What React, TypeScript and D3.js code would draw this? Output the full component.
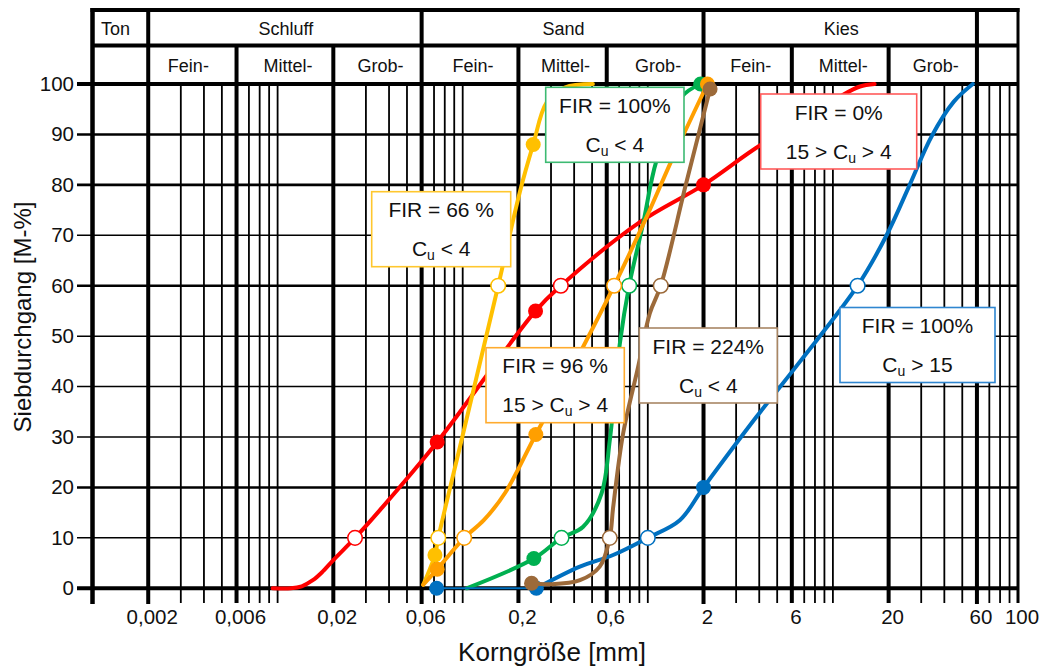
import React from 'react';
import * as d3 from 'd3';

type P = [number, number];

// ---------- axis / header definitions ----------
const xTickValues = [0.002, 0.006, 0.02, 0.06, 0.2, 0.6, 2, 6, 20, 60, 100];
const xTickLabels = ['0,002', '0,006', '0,02', '0,06', '0,2', '0,6', '2', '6', '20', '60', '100'];
const yTickValues = [0, 10, 20, 30, 40, 50, 60, 70, 80, 90, 100];
const yBoldValues = [20, 60, 80, 90];
const mainBounds = [0.001, 0.002, 0.06, 2, 60];
const subBounds = [0.006, 0.02, 0.2, 0.6, 6, 20];

const headerTopLabels = ['Ton', 'Schluff', 'Sand', 'Kies'];
const headerTopFrom = [0.001, 0.002, 0.06, 2];
const headerTopTo = [0.002, 0.06, 2, 60];
const headerSubLabels = ['Fein-', 'Mittel-', 'Grob-', 'Fein-', 'Mittel-', 'Grob-', 'Fein-', 'Mittel-', 'Grob-'];
const headerSubFrom = [0.002, 0.006, 0.02, 0.06, 0.2, 0.6, 2, 6, 20];
const headerSubTo = [0.006, 0.02, 0.06, 0.2, 0.6, 2, 6, 20, 60];

// ---------- series data: [grain size mm, passing %] ----------
const redCurve: P[] = [
  [0.0094, 0], [0.0118, 0], [0.0135, 0.4], [0.0155, 1.6], [0.0175, 3.3], [0.02, 5.6], [0.0262, 10],
  [0.0357, 15.5], [0.0728, 29], [0.2475, 55], [0.339, 60], [0.9055, 72.6], [2.0, 80], [4.03, 87.8],
  [8.0, 94], [11.3, 97.8], [14.0, 99.5], [16.8, 100],
];
const redFilled: P[] = [[0.0728, 29], [0.2475, 55], [2.0, 80]];
const redOpen: P[] = [[0.0262, 10], [0.339, 60]];

const yellowCurve: P[] = [
  [0.0612, 0.7], [0.0708, 6.6], [0.0738, 10], [0.0995, 30], [0.1555, 60], [0.2036, 78.6],
  [0.2404, 88], [0.2838, 96.3], [0.356, 99.3], [0.505, 100],
];
const yellowFilled: P[] = [[0.0708, 6.6], [0.2404, 88]];
const yellowOpen: P[] = [[0.0738, 10], [0.1555, 60]];

const greenCurve: P[] = [
  [0.105, 0], [0.2424, 5.9], [0.342, 10], [0.4474, 12.2], [0.5623, 18.8], [0.6235, 29.4],
  [0.706, 48.5], [0.793, 60], [0.943, 72.3], [1.114, 84.8], [1.521, 97.4], [1.93, 100],
];
const greenFilled: P[] = [[0.2424, 5.9], [1.93, 100]];
const greenOpen: P[] = [[0.342, 10], [0.793, 60]];

const orangeCurve: P[] = [
  [0.0612, 0.7], [0.0728, 3.8], [0.1019, 10], [0.13, 13.5], [0.17, 19], [0.2484, 30.5],
  [0.4475, 47.9], [0.658, 60], [0.984, 73.6], [1.37, 85.5], [2.1, 100],
];
const orangeFilled: P[] = [[0.0728, 3.8], [0.2484, 30.5], [2.1, 100]];
const orangeOpen: P[] = [[0.1019, 10], [0.658, 60]];

const blueBase: P[] = [[0.0723, 0], [0.25, 0]];
const blueCurve: P[] = [
  [0.25, 0], [0.4295, 4.3], [0.6496, 6.6], [1.0, 10], [1.489, 13.5], [2.0, 20], [3.864, 34],
  [6.62, 44.9], [13.6, 60], [19.5, 70], [26, 80], [34, 89.5], [45, 96.5], [57, 100],
];
const blueFilled: P[] = [[0.0723, 0], [0.25, 0], [2.0, 20]];
const blueOpen: P[] = [[1.0, 10], [13.6, 60]];

const brownCurve: P[] = [
  [0.2355, 1], [0.3, 0.8], [0.43, 1.6], [0.55, 4.3], [0.623, 10], [0.6496, 16], [0.7357, 30.7],
  [0.8864, 43.9], [1.025, 54.5], [1.175, 60], [1.604, 80], [2.17, 99],
];
const brownFilled: P[] = [[0.2355, 1], [2.17, 99]];
const brownOpen: P[] = [[0.623, 10], [1.175, 60]];

const FIR_LABELS = ['FIR = 0%', 'FIR = 66 %', 'FIR = 100%', 'FIR = 96 %', 'FIR = 224%', 'FIR = 100%'];
const CU_PRE = ['15 > ', '', '', '15 > ', '', ''];
const CU_POST = [' > 4', ' < 4', ' < 4', ' > 4', ' < 4', ' > 15'];

const FONT = '"Liberation Sans", Arial, Helvetica, sans-serif';

const series = [
  { color: '#ff0000', curve: redCurve, filled: redFilled, open: redOpen },
  { color: '#ffc000', curve: yellowCurve, filled: yellowFilled, open: yellowOpen },
  { color: '#00b050', curve: greenCurve, filled: greenFilled, open: greenOpen },
  { color: '#ff9f00', curve: orangeCurve, filled: orangeFilled, open: orangeOpen },
  { color: '#0070c0', curve: blueCurve, filled: blueFilled, open: blueOpen },
  { color: '#9c6a3a', curve: brownCurve, filled: brownFilled, open: brownOpen },
];

// annotation box layout (pixels), index into FIR_LABELS etc.
const notes = [
  { i: 0, border: '#ff5a5a', x: 760.7, y: 94, w: 156 },
  { i: 1, border: '#ffc72e', x: 371.7, y: 191.7, w: 139 },
  { i: 2, border: '#3dba72', x: 545.7, y: 87.3, w: 138.3 },
  { i: 3, border: '#ffab2e', x: 486, y: 347.7, w: 138.3 },
  { i: 4, border: '#a88664', x: 639.3, y: 328, w: 138 },
  { i: 5, border: '#2f86d0', x: 840, y: 307.5, w: 155 },
];

const same = (a: number, b: number) => Math.abs(Math.log10(a) - Math.log10(b)) < 1e-6;

export default function App() {
  const x = d3.scaleLog().domain([0.001, 100]).range([92.5, 1018]);
  const y = d3.scaleLinear().domain([0, 100]).range([588.3, 84]);
  const line = d3
    .line<P>()
    .x((d) => x(d[0]))
    .y((d) => y(d[1]))
    .curve(d3.curveCatmullRom.alpha(0.5));
  const straight = d3
    .line<P>()
    .x((d) => x(d[0]))
    .y((d) => y(d[1]));

  const hTop = 10;
  const hMid = 45.5;
  const hBot = y(100);
  const gridBottom = 603;
  const left = x(0.001);
  const right = x(100);

  const minor = x.ticks().filter(
    (v) => ![...mainBounds, ...subBounds, 100].some((b) => same(v, b))
  );

  return (
    <svg
      width={1045}
      height={671}
      style={{ position: 'absolute', left: 0, top: 0, background: '#fff' }}
      fontFamily={FONT}
    >
      <rect x={0} y={0} width={1045} height={671} fill="#fff" />

      {/* minor vertical grid */}
      {minor.map((v, k) => (
        <line key={'mv' + k} x1={x(v)} x2={x(v)} y1={hBot} y2={gridBottom} stroke="#000" strokeWidth={1.8} />
      ))}

      {/* horizontal grid */}
      {yTickValues.map((v) => (
        <line
          key={'h' + v}
          x1={77}
          x2={right}
          y1={y(v)}
          y2={y(v)}
          stroke="#000"
          strokeWidth={v === 0 || v === 100 ? 4 : yBoldValues.includes(v) ? 2.6 : 1.5}
        />
      ))}

      {/* header horizontal lines */}
      <line x1={left - 2} x2={right + 1.5} y1={hTop} y2={hTop} stroke="#000" strokeWidth={4} />
      <line x1={left} x2={right} y1={hMid} y2={hMid} stroke="#000" strokeWidth={4} />

      {/* sub-fraction boundaries */}
      {subBounds.map((v) => (
        <line key={'sb' + v} x1={x(v)} x2={x(v)} y1={hMid} y2={gridBottom} stroke="#000" strokeWidth={4} />
      ))}
      {/* main boundaries */}
      {mainBounds.map((v) => (
        <line key={'mb' + v} x1={x(v)} x2={x(v)} y1={hTop - 2} y2={gridBottom + 1} stroke="#000" strokeWidth={v === 0.001 ? 4.5 : 4} />
      ))}
      <line x1={right} x2={right} y1={hTop - 2} y2={gridBottom} stroke="#000" strokeWidth={3} />

      {/* header labels */}
      {headerTopLabels.map((t, k) => (
        <text
          key={'ht' + k}
          x={k === 0 ? x(headerTopFrom[k]) + 8.5 : (x(headerTopFrom[k]) + x(headerTopTo[k])) / 2 + 1}
          y={34.5}
          fontSize={18}
          textAnchor={k === 0 ? 'start' : 'middle'}
          fill="#111"
        >
          {t}
        </text>
      ))}
      {headerSubLabels.map((t, k) => (
        <text
          key={'hs' + k}
          x={(x(headerSubFrom[k]) + x(headerSubTo[k])) / 2 + (k === 0 ? -4 : 3)}
          y={71.7}
          fontSize={18}
          textAnchor="middle"
          fill="#111"
        >
          {t}
        </text>
      ))}

      {/* series */}
      {series.map((s, k) => (
        <g key={'s' + k}>
          {k === 4 && (
            <path d={straight(blueBase) || ''} fill="none" stroke={s.color} strokeWidth={2} />
          )}
          <path d={line(s.curve) || ''} fill="none" stroke={s.color} strokeWidth={4} strokeLinecap="round" strokeLinejoin="round" />
          {s.filled.map((p, j) => (
            <circle key={'f' + j} cx={x(p[0])} cy={y(p[1])} r={7.5} fill={s.color} />
          ))}
          {s.open.map((p, j) => (
            <circle key={'o' + j} cx={x(p[0])} cy={y(p[1])} r={7.3} fill="#fff" stroke={s.color} strokeWidth={1.5} />
          ))}
        </g>
      ))}

      {/* annotation boxes */}
      {notes.map((n) => (
        <g key={'n' + n.i}>
          <rect x={n.x} y={n.y} width={n.w} height={75} fill="#fff" stroke={n.border} strokeWidth={1.6} />
          <text x={n.x + n.w / 2} y={n.y + 25.5} fontSize={21} textAnchor="middle" fill="#111">
            {FIR_LABELS[n.i]}
          </text>
          <text x={n.x + n.w / 2} y={n.y + 64.5} fontSize={21} textAnchor="middle" fill="#111">
            {CU_PRE[n.i]}C
            <tspan fontSize={14} dy={4}>u</tspan>
            <tspan dy={-4}>{CU_POST[n.i]}</tspan>
          </text>
        </g>
      ))}

      {/* y tick labels */}
      {yTickValues.map((v) => (
        <text key={'yl' + v} x={74} y={y(v) + 6.8} fontSize={20.5} textAnchor="end" fill="#111">
          {v}
        </text>
      ))}
      {/* x tick labels */}
      {xTickValues.map((v, k) => (
        <text key={'xl' + v} x={x(v) + 4} y={624} fontSize={20.5} textAnchor="middle" fill="#111">
          {xTickLabels[k]}
        </text>
      ))}

      {/* axis titles */}
      <text x={552} y={661} fontSize={26} textAnchor="middle" fill="#111">
        Korngröße [mm]
      </text>
      <text transform="translate(30.5,317) rotate(-90)" fontSize={24} textAnchor="middle" fill="#111">
        Siebdurchgang [M-%]
      </text>
    </svg>
  );
}
